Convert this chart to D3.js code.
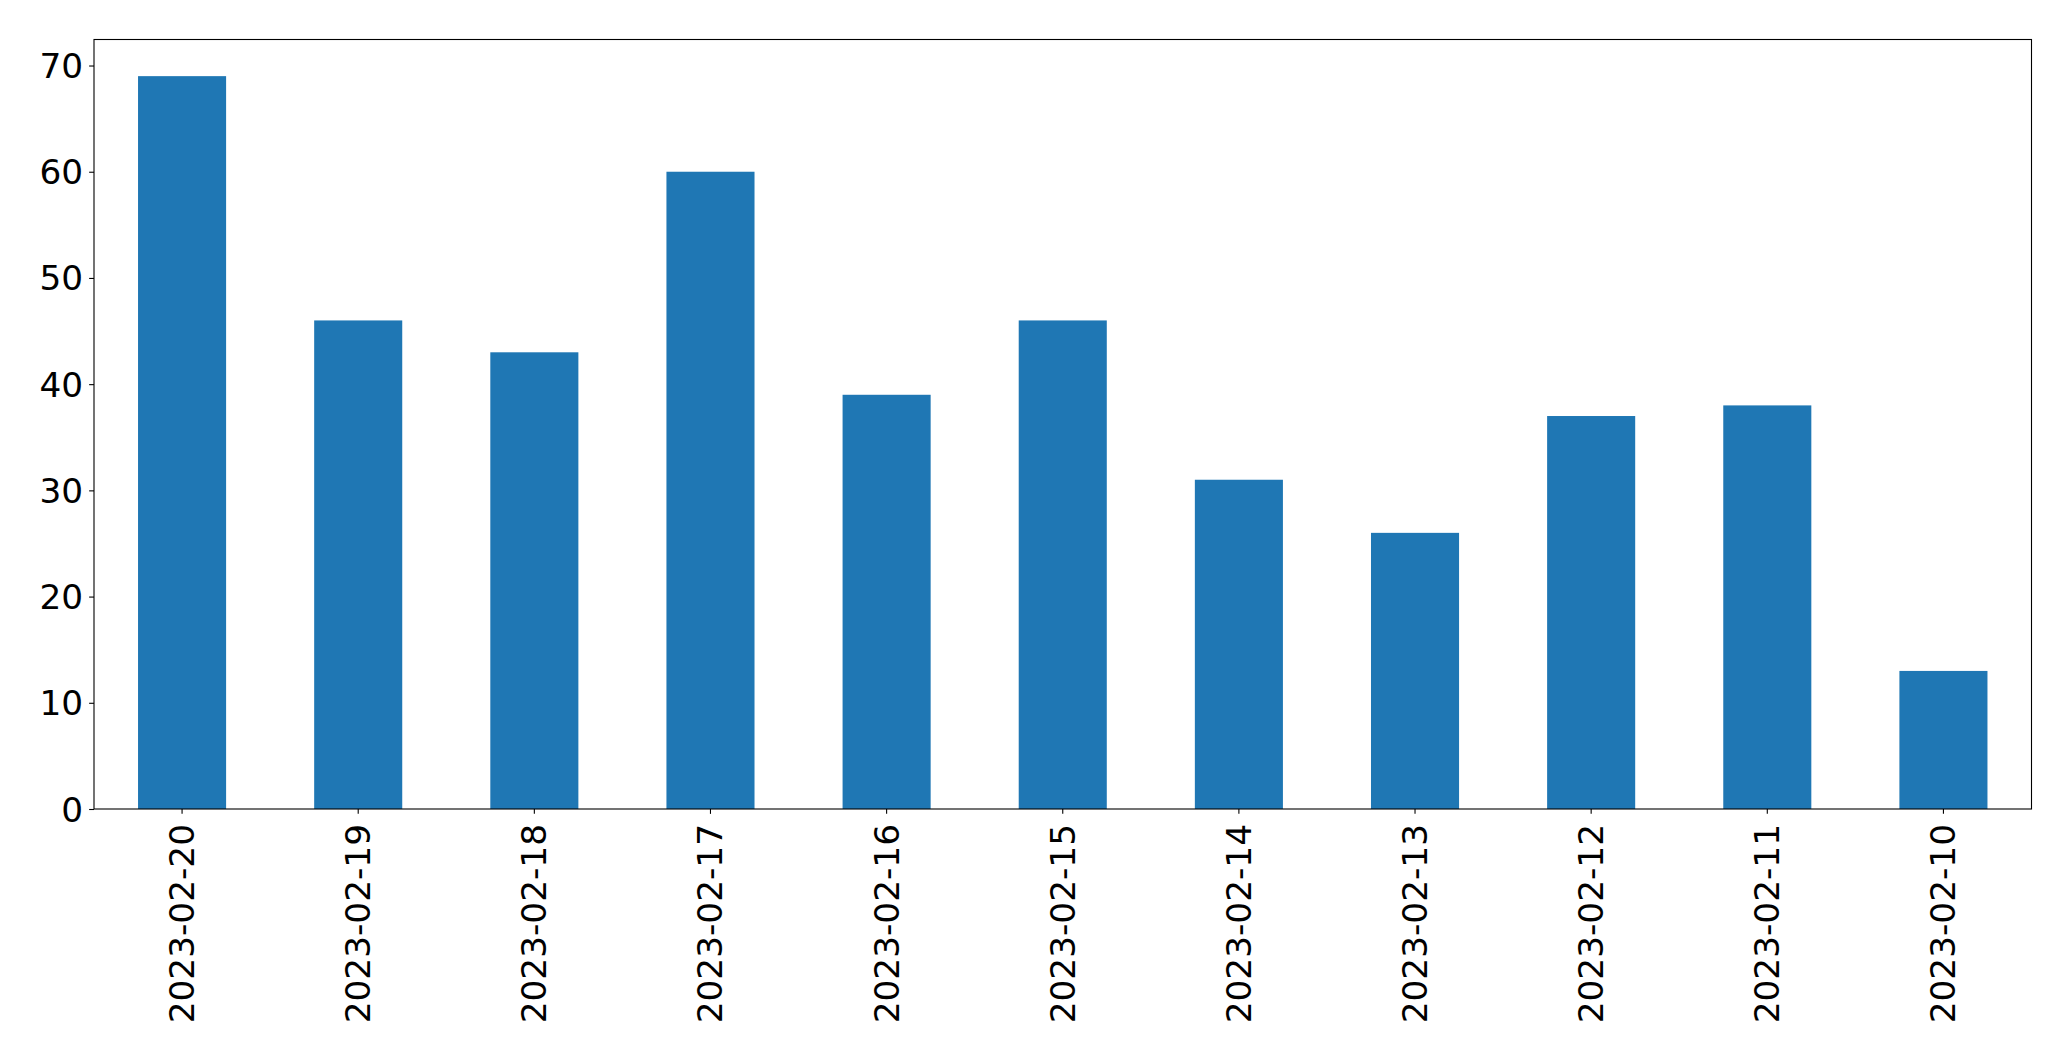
<!DOCTYPE html>
<html><head><meta charset="utf-8">
<script src="https://cdn.jsdelivr.net/npm/d3@7"></script>
<style>body{margin:0;background:#fff;} svg{display:block;}</style>
</head><body>
<svg id="chart" width="2071" height="1061"></svg>
<script>
const categories = ["2023-02-20","2023-02-19","2023-02-18","2023-02-17","2023-02-16","2023-02-15","2023-02-14","2023-02-13","2023-02-12","2023-02-11","2023-02-10"];
const values = [69, 46, 43, 60, 39, 46, 31, 26, 37, 38, 13];
const yTicks = [0, 10, 20, 30, 40, 50, 60, 70];

const svg = d3.select("#chart");
const L = 94, R = 2031.5, T = 39.5, B = 809;
const x = d3.scaleBand().domain(categories).range([L, R]).paddingInner(0.5).paddingOuter(0.25);
const y = d3.scaleLinear().domain([0, d3.max(values) * 1.05]).range([B, T]);
const font = "DejaVu Sans, sans-serif";
const fs = 34.3;

svg.append("g").selectAll("rect").data(values).join("rect")
  .attr("x", (d, i) => x(categories[i]))
  .attr("width", x.bandwidth())
  .attr("y", d => y(d))
  .attr("height", d => B - y(d))
  .attr("fill", "#1f77b4");

const yAxis = svg.append("g").attr("transform", `translate(${L},0)`)
  .call(d3.axisLeft(y).tickValues(yTicks).tickSize(4.86).tickPadding(6));
yAxis.select(".domain").remove();
yAxis.selectAll("line").attr("stroke", "#000").attr("stroke-width", 1.1);
yAxis.selectAll("text").attr("font-family", font).attr("font-size", fs).attr("fill", "#000")
  .attr("dy", "0.35em");

const xAxis = svg.append("g").attr("transform", `translate(0,${B})`)
  .call(d3.axisBottom(x).tickSize(4.86).tickPadding(0));
xAxis.select(".domain").remove();
xAxis.selectAll("line").attr("stroke", "#000").attr("stroke-width", 1.1);
xAxis.selectAll("text").attr("font-family", font).attr("font-size", fs).attr("fill", "#000")
  .attr("transform", "translate(0,15) rotate(-90)")
  .attr("text-anchor", "end").attr("x", 0).attr("y", 0).attr("dy", "0.35em");

svg.append("rect").attr("x", L).attr("y", T).attr("width", R - L).attr("height", B - T)
  .attr("fill", "none").attr("stroke", "#000").attr("stroke-width", 1.1);
</script>
</body></html>
